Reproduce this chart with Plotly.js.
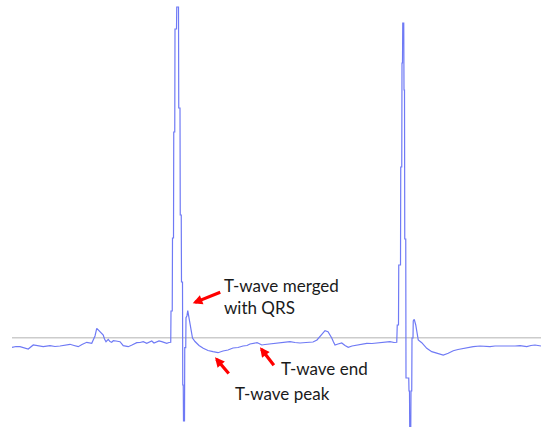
<!DOCTYPE html>
<html>
<head>
<meta charset="utf-8">
<script src="https://cdn.plot.ly/plotly-3.0.1.min.js"></script>
<style>html,body{margin:0;padding:0;background:#fff;}#chart{width:541px;height:427px;}</style>
</head>
<body>
<div id="chart"></div>
<script>
// ECG trace: time (ms) and amplitude (mV)
var timeMs = [
  0,16,32,48,65,85,104,125,152,172,192,212,232,248,265,280,299,319,326,332,339,346,352,358,365,370,376,385,392,399,405,416,432,445,465,480,499,512,525,539,548,559,568,579,588,599,608,619,628,635,
  636,641,642,646,647,651,652,658,659,666,667,672,673,677,678,682,683,685,686,690,691,695,696,700,703,
  709,715,722,732,748,765,784,804,824,844,864,884,904,924,940,952,968,980,988,999,1012,1032,1052,1072,1084,1112,1132,1152,1176,1204,1220,1232,1242,1252,1264,1272,1279,1286,1292,1304,1319,1332,1345,1360,1379,1396,1419,1440,1456,1472,1492,1512,1528,1539,
  1541,1546,1547,1554,1555,1559,1560,1562,1563,1567,1568,1570,1571,1575,1576,1587,1588,1590,1591,1595,1596,1599,1600,1604,1605,1609,
  1615,1619,1625,1639,1659,1679,1699,1725,1745,1765,1784,1805,1824,1845,1872,1892,1912,1932,1952,1972,1992,2012,2032,2059,2076,2092,2116
];
var amplitudeMv = [
  -0.096,-0.088,-0.090,-0.098,-0.113,-0.073,-0.083,-0.090,-0.080,-0.088,-0.083,-0.073,-0.066,-0.078,-0.090,-0.068,-0.046,-0.056,-0.023,0.017,0.094,0.077,0.060,0.047,0.027,-0.013,-0.040,-0.016,-0.038,-0.046,-0.030,-0.033,-0.040,-0.080,-0.090,-0.073,-0.050,-0.048,-0.040,-0.056,-0.043,-0.033,-0.053,-0.046,-0.033,-0.040,-0.048,-0.056,-0.048,-0.046,
  0.267,0.267,0.997,0.997,2.057,2.057,3.087,3.087,3.307,3.307,2.297,2.297,1.227,1.227,0.557,0.557,-0.473,-0.473,-0.833,-0.833,-0.100,-0.100,0.200,0.220,0.270,
  0.177,0.060,-0.003,-0.038,-0.078,-0.106,-0.128,-0.140,-0.150,-0.133,-0.123,-0.103,-0.098,-0.083,-0.078,-0.063,-0.058,-0.050,-0.058,-0.073,-0.068,-0.063,-0.058,-0.056,-0.050,-0.040,-0.048,-0.053,-0.048,-0.043,-0.023,0.010,0.047,0.070,0.060,0.032,-0.003,-0.043,-0.073,-0.063,-0.053,-0.078,-0.096,-0.083,-0.073,-0.068,-0.056,-0.058,-0.053,-0.050,-0.043,-0.040,-0.048,-0.046,
  0.127,0.127,0.727,0.727,1.707,1.707,2.747,2.747,3.147,3.147,2.477,2.477,0.987,0.987,-0.403,-0.403,-0.533,-0.533,-0.950,-0.950,-0.533,-0.533,-0.003,-0.003,0.167,0.184,
  0.127,0.044,-0.023,-0.050,-0.106,-0.140,-0.156,-0.173,-0.156,-0.130,-0.118,-0.106,-0.098,-0.090,-0.083,-0.088,-0.090,-0.083,-0.083,-0.088,-0.090,-0.083,-0.080,-0.090,-0.078,-0.073,-0.083
];

// annotation labels
var labelTexts = ["T-wave merged<br>with QRS", "T-wave peak", "T-wave end"];
var labelX = [840, 884, 1068];
var labelY = [0.412, -0.553, -0.303];
// arrows: head (x,y) and tail (ax,ay)
var arrowHeadX = [723, 812, 992];
var arrowHeadY = [0.344, -0.196, -0.096];
var arrowTailX = [839, 872, 1052];
var arrowTailY = [0.460, -0.373, -0.290];

var tMin = Math.min.apply(null, timeMs), tMax = Math.max.apply(null, timeMs);

var annotations = [];
for (var i = 0; i < labelTexts.length; i++) {
  annotations.push({
    x: labelX[i], y: labelY[i], xref: 'x', yref: 'y',
    text: labelTexts[i], showarrow: false, xanchor: 'left', yanchor: 'middle', align: 'left',
    font: {family: 'Lato, "Open Sans", sans-serif', size: 17, color: '#1a1a1a'}
  });
  annotations.push({
    x: arrowHeadX[i], y: arrowHeadY[i], xref: 'x', yref: 'y',
    ax: arrowTailX[i], ay: arrowTailY[i], axref: 'x', ayref: 'y',
    text: '', showarrow: true, arrowhead: 2, arrowsize: 0.6, arrowwidth: 3.2,
    arrowcolor: '#ff0000', standoff: 0
  });
}

var trace = {
  x: timeMs, y: amplitudeMv, type: 'scatter', mode: 'lines',
  line: {color: '#6f7af5', width: 1.2, shape: 'linear'},
  hoverinfo: 'skip'
};

var layout = {
  width: 541, height: 427,
  margin: {l: 0, r: 0, t: 0, b: 0},
  paper_bgcolor: '#ffffff', plot_bgcolor: '#ffffff',
  showlegend: false,
  xaxis: {range: [-48, 2116], visible: false, fixedrange: true},
  yaxis: {range: [-0.893, 3.377], visible: false, fixedrange: true},
  shapes: [{type: 'line', xref: 'x', yref: 'y', x0: tMin, x1: tMax, y0: 0, y1: 0,
            line: {color: '#cccccc', width: 1.5}, layer: 'below'}],
  annotations: annotations
};

Plotly.newPlot('chart', [trace], layout, {staticPlot: true, displayModeBar: false});
</script>
</body>
</html>
